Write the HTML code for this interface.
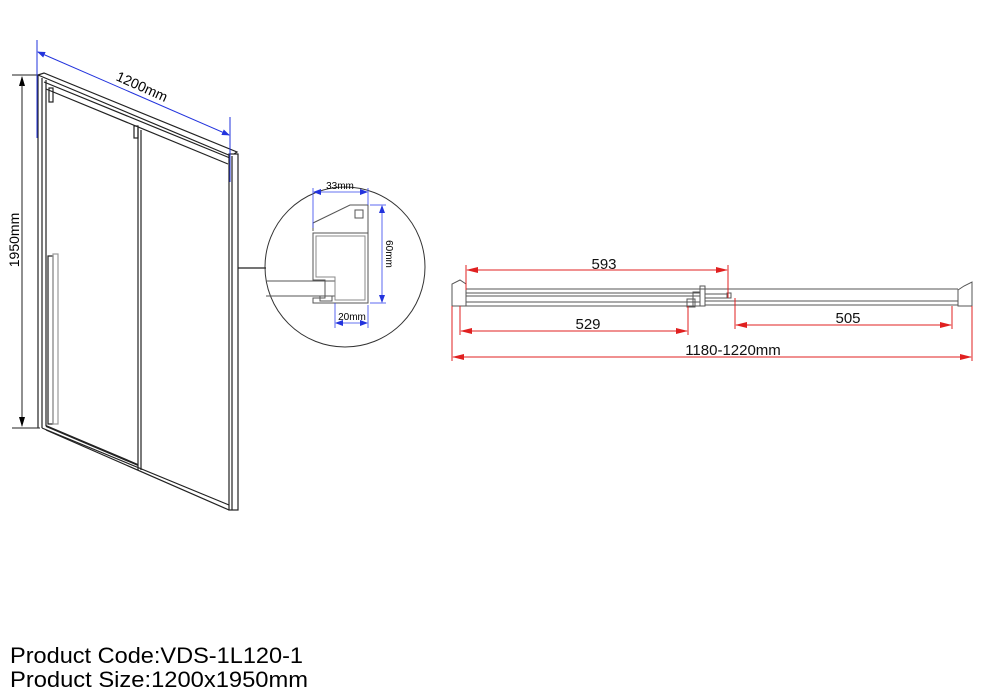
<!DOCTYPE html>
<html><head><meta charset="utf-8"><style>
html,body{margin:0;padding:0;background:#fff;}
svg{display:block;font-family:"Liberation Sans",Arial,sans-serif;}
</style></head><body>
<svg width="1000" height="687" viewBox="0 0 1000 687" xmlns="http://www.w3.org/2000/svg">
<defs>
<marker id="ab" markerWidth="10" markerHeight="6" refX="9" refY="3" orient="auto" markerUnits="userSpaceOnUse"><path d="M0,0 L10,3 L0,6z" fill="#000"/></marker>
<marker id="ablue" markerWidth="8" markerHeight="6" refX="7" refY="3" orient="auto" markerUnits="userSpaceOnUse"><path d="M0,0 L8,3 L0,6z" fill="#2233dd"/></marker>
<marker id="ar" markerWidth="12" markerHeight="6" refX="11" refY="3" orient="auto" markerUnits="userSpaceOnUse"><path d="M0,0 L12,3 L0,6z" fill="#e02020"/></marker>
</defs>
<g stroke="#222" fill="none" stroke-width="1.2">
<line x1="38" y1="75" x2="38" y2="428"/>
<line x1="42" y1="78" x2="42" y2="428"/>
<line x1="46" y1="80" x2="46" y2="426"/>
<path d="M38,75 L44,73 L237,152 L231,156 Z" fill="#fff"/>
<line x1="44" y1="82" x2="230" y2="158"/>
<line x1="46" y1="89" x2="228" y2="164"/>
<rect x="229" y="154" width="9" height="356" fill="#fff"/>
<line x1="232" y1="156" x2="232" y2="510"/>
<line x1="138" y1="128" x2="138" y2="470"/>
<line x1="141" y1="130" x2="141" y2="470"/>
<line x1="42" y1="428" x2="229" y2="505"/>
<line x1="46" y1="430" x2="229" y2="510"/>
<line x1="46" y1="426" x2="138" y2="465" stroke-width="2"/>
<rect x="48" y="256" width="5" height="168" fill="#fff"/>
<rect x="53" y="254" width="5" height="170" stroke="#999"/>
<rect x="49" y="88" width="4" height="14"/>
<rect x="134" y="126" width="4" height="12"/>
<line x1="238" y1="268" x2="266" y2="268"/>
</g>
<g stroke="#222" stroke-width="1">
<line x1="12" y1="75" x2="38" y2="75"/>
<line x1="12" y1="428" x2="40" y2="428"/>
<line x1="22" y1="85" x2="22" y2="77" marker-end="url(#ab)"/>
<line x1="22" y1="85" x2="22" y2="418"/>
<line x1="22" y1="418" x2="22" y2="426" marker-end="url(#ab)"/>
</g>
<text x="19" y="240" font-size="14" transform="rotate(-90 19 240)" text-anchor="middle">1950mm</text>
<g stroke="#2233dd" stroke-width="1">
<line x1="37" y1="40" x2="37" y2="138"/>
<line x1="230" y1="117" x2="230" y2="182"/>
<line x1="130" y1="92" x2="38" y2="52" marker-end="url(#ablue)"/>
<line x1="130" y1="92" x2="229" y2="135" marker-end="url(#ablue)"/>
</g>
<text x="140" y="91" font-size="14" transform="rotate(24 140 91)" text-anchor="middle">1200mm</text>
<circle cx="345" cy="267" r="80" fill="none" stroke="#333" stroke-width="1"/>
<g stroke="#555" fill="none" stroke-width="1">
<line x1="266" y1="281" x2="335" y2="281"/>
<line x1="266" y1="296" x2="335" y2="296"/>
<path d="M313,231 L313,223 L350,205 L368,205 L368,303 L313,303 L313,298 L325,298 L325,280 L313,280 L313,233 L368,233"/>
<path d="M316,236 L365,236 L365,300 L335,300 L335,277 L316,277 Z" stroke="#888"/>
<rect x="355" y="210" width="8" height="8"/>
<rect x="320" y="296" width="12" height="5"/>
</g>
<g stroke="#3344ee" stroke-width="0.8">
<line x1="313" y1="188" x2="313" y2="228"/>
<line x1="368" y1="188" x2="368" y2="205"/>
<line x1="340" y1="192" x2="314" y2="192" marker-end="url(#ablue)"/>
<line x1="340" y1="192" x2="367" y2="192" marker-end="url(#ablue)"/>
<line x1="370" y1="205" x2="386" y2="205"/>
<line x1="370" y1="303" x2="386" y2="303"/>
<line x1="382" y1="250" x2="382" y2="206" marker-end="url(#ablue)"/>
<line x1="382" y1="250" x2="382" y2="302" marker-end="url(#ablue)"/>
<line x1="335" y1="303" x2="335" y2="328"/>
<line x1="368" y1="305" x2="368" y2="328"/>
<line x1="350" y1="323" x2="336" y2="323" marker-end="url(#ablue)"/>
<line x1="350" y1="323" x2="367" y2="323" marker-end="url(#ablue)"/>
</g>
<text x="340" y="189" font-size="10" text-anchor="middle">33mm</text>
<text x="352" y="320" font-size="10" text-anchor="middle">20mm</text>
<text x="386" y="254" font-size="10" transform="rotate(90 386 254)" text-anchor="middle">60mm</text>
<g stroke="#555" fill="none" stroke-width="1">
<path d="M452,306 L452,284 L460,280 L466,284 L466,306 Z"/>
<path d="M972,306 L972,282 L964,286 L958,290 L958,306 Z"/>
<line x1="466" y1="289" x2="958" y2="289"/>
<line x1="466" y1="293" x2="700" y2="293"/>
<line x1="466" y1="296" x2="700" y2="296"/>
<line x1="466" y1="302" x2="700" y2="302"/>
<line x1="466" y1="306" x2="700" y2="306"/>
<line x1="705" y1="294" x2="728" y2="294"/>
<line x1="705" y1="298" x2="728" y2="298"/>
<line x1="705" y1="301" x2="958" y2="301"/>
<line x1="705" y1="305" x2="958" y2="305"/>
<rect x="687" y="299" width="8" height="8"/>
<rect x="693" y="292" width="7" height="14"/>
<rect x="700" y="286" width="5" height="20"/>
<rect x="727" y="293" width="4" height="5"/>
</g>
<g stroke="#e02020" stroke-width="1">
<line x1="466" y1="265" x2="466" y2="290"/>
<line x1="728" y1="265" x2="728" y2="298"/>
<line x1="597" y1="270" x2="467" y2="270" marker-end="url(#ar)"/>
<line x1="597" y1="270" x2="727" y2="270" marker-end="url(#ar)"/>
<line x1="460" y1="306" x2="460" y2="335"/>
<line x1="688" y1="306" x2="688" y2="335"/>
<line x1="574" y1="331" x2="461" y2="331" marker-end="url(#ar)"/>
<line x1="574" y1="331" x2="687" y2="331" marker-end="url(#ar)"/>
<line x1="735" y1="298" x2="735" y2="329"/>
<line x1="952" y1="306" x2="952" y2="329"/>
<line x1="843" y1="325" x2="736" y2="325" marker-end="url(#ar)"/>
<line x1="843" y1="325" x2="951" y2="325" marker-end="url(#ar)"/>
<line x1="452" y1="306" x2="452" y2="361"/>
<line x1="972" y1="306" x2="972" y2="361"/>
<line x1="712" y1="357" x2="453" y2="357" marker-end="url(#ar)"/>
<line x1="712" y1="357" x2="971" y2="357" marker-end="url(#ar)"/>
</g>
<g font-size="15" text-anchor="middle" fill="#111">
<text x="604" y="269">593</text>
<text x="588" y="329">529</text>
<text x="848" y="323">505</text>
<text x="733" y="355">1180-1220mm</text>
</g>
<text x="10" y="663" font-size="22" textLength="293" lengthAdjust="spacingAndGlyphs">Product Code:VDS-1L120-1</text>
<text x="10" y="687" font-size="22" textLength="298" lengthAdjust="spacingAndGlyphs">Product Size:1200x1950mm</text>
</svg>
</body></html>
